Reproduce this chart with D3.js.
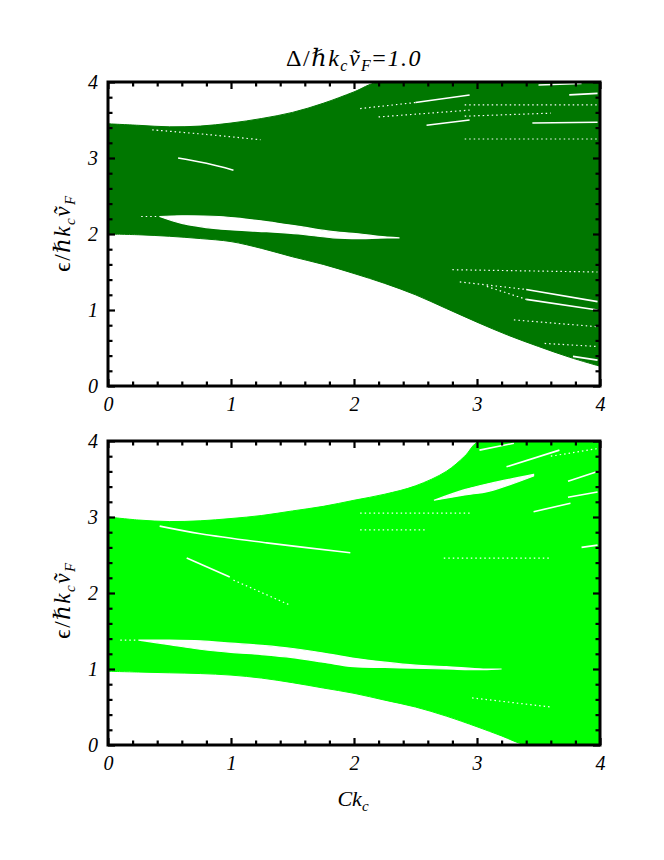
<!DOCTYPE html>
<html><head><meta charset="utf-8">
<script src="https://cdn.jsdelivr.net/npm/d3@7"></script>
<style>
body{margin:0;background:#fff}
svg text{font-family:"Liberation Serif","Times New Roman","DejaVu Serif",serif;fill:#000}
</style>
</head><body>
<svg id="c" width="664" height="860"></svg>
<script>
// ---------- data ----------
const titleValue = "1.0";
const xTicks = [0, 1, 2, 3, 4];
const yTicks = [0, 1, 2, 3, 4];
const minorTicks = [0.2, 0.4, 0.6, 0.8, 1.2, 1.4, 1.6, 1.8, 2.2, 2.4, 2.6, 2.8, 3.2, 3.4, 3.6, 3.8];

// top panel (dark green): band envelope
const topUpper = [[0,3.45],[0.25,3.43],[0.5,3.41],[0.75,3.42],[1,3.46],[1.25,3.52],[1.5,3.6],[1.75,3.72],[2,3.87],[2.2,4.0],[3,4.0],[4,4.0]];
const topLower = [[0,2.0],[0.25,1.99],[0.5,1.97],[0.75,1.94],[1,1.9],[1.25,1.81],[1.5,1.7],[1.75,1.6],[2,1.48],[2.25,1.35],[2.5,1.2],[2.75,1.02],[3,0.84],[3.25,0.67],[3.5,0.52],[3.75,0.38],[4,0.26]];
// top panel gap (white lens): upper and lower edge
const topGapTop = [[0.42,2.23],[0.6,2.24],[0.9,2.23],[1.1,2.2],[1.3,2.16],[1.55,2.1],[1.83,2.03],[2.05,2.0],[2.2,1.97],[2.37,1.95]];
const topGapBottom = [[0.42,2.23],[0.6,2.14],[0.88,2.07],[1.29,2.03],[1.55,2.0],[1.83,1.95],[2.05,1.94],[2.2,1.945],[2.37,1.95]];
// top panel thin white streaks
const topStreaks = [
  [[0.57,3.0],[0.8,2.93],[1.02,2.84]],
  [[2.5,3.73],[2.94,3.83]],
  [[2.59,3.43],[2.94,3.5]],
  [[3.45,3.46],[3.98,3.47]],
  [[3.75,3.83],[3.98,3.85]],
  [[3.5,3.96],[3.85,3.98]],
  [[3.4,1.27],[3.98,1.11]],
  [[3.4,1.14],[3.98,1.0]],
  [[3.78,0.39],[3.98,0.34]]
];
// top panel dotted streaks
const topDots = [
  [[0.27,2.23],[0.42,2.23]],
  [[0.36,3.37],[0.8,3.31],[1.24,3.24]],
  [[2.05,3.65],[2.5,3.73]],
  [[2.2,3.54],[2.94,3.63]],
  [[2.9,3.55],[3.6,3.59]],
  [[2.9,3.7],[3.98,3.7]],
  [[2.9,3.25],[3.98,3.25]],
  [[2.86,1.37],[3.4,1.27]],
  [[3.08,1.31],[3.4,1.14]],
  [[2.8,1.53],[3.98,1.5]],
  [[3.3,0.87],[3.98,0.78]],
  [[3.55,0.56],[3.98,0.52]]
];

// bottom panel (bright green): band envelope
const botUpper = [[0,3.0],[0.25,2.96],[0.5,2.94],[0.75,2.95],[1,2.98],[1.25,3.02],[1.5,3.08],[1.75,3.14],[2,3.22],[2.25,3.3],[2.5,3.41],[2.75,3.6],[2.9,3.8],[3.02,4.0],[3.5,4.0],[4,4.0]];
const botLower = [[0,0.97],[0.25,0.96],[0.5,0.95],[0.75,0.94],[1,0.92],[1.25,0.88],[1.5,0.82],[1.75,0.75],[2,0.68],[2.25,0.59],[2.5,0.5],[2.75,0.38],[3,0.24],[3.2,0.12],[3.4,0.0],[3.7,0.0],[4,0.0]];
// bottom panel main gap (white lens)
const botGapTop = [[0.25,1.38],[0.5,1.38],[0.75,1.37],[1,1.34],[1.25,1.31],[1.5,1.27],[1.75,1.21],[2,1.14],[2.25,1.09],[2.5,1.05],[2.75,1.03],[3.05,1.0],[3.2,1.0]];
const botGapBottom = [[0.25,1.38],[0.5,1.32],[0.75,1.26],[1,1.22],[1.25,1.19],[1.5,1.15],[1.75,1.09],[2,1.03],[2.25,1.02],[2.5,1.01],[2.75,1.0],[3.05,0.99],[3.2,1.0]];
// bottom panel second lens (upper right)
const botLens2Top = [[2.65,3.22],[2.9,3.36],[3.1,3.44],[3.46,3.56]];
const botLens2Bottom = [[2.65,3.22],[2.9,3.29],[3.1,3.34],[3.46,3.54]];
// bottom panel thin white streaks
const botStreaks = [
  [[0.42,2.88],[0.75,2.78],[1.29,2.66],[1.97,2.53]],
  [[0.64,2.46],[0.99,2.21]],
  [[3.46,3.07],[3.76,3.18]],
  [[3.74,3.26],[3.98,3.33]],
  [[3.85,2.6],[3.98,2.63]],
  [[3.02,3.88],[3.3,3.97]],
  [[3.24,3.66],[3.67,3.88]],
  [[3.74,3.47],[3.98,3.6]]
];
// bottom panel dotted streaks
const botDots = [
  [[0.1,1.38],[0.25,1.38]],
  [[1.02,2.17],[1.48,1.84]],
  [[2.05,2.83],[2.59,2.83]],
  [[2.05,3.05],[2.94,3.05]],
  [[2.73,2.46],[3.6,2.46]],
  [[2.96,0.62],[3.6,0.5]],
  [[3.6,3.8],[3.98,3.9]]
];

// ---------- layout ----------
const L = 108, R = 600, PH = 304;
const panelTops = [82, 441];
const colors = ["#007700", "#00ff00"];
const serif = '"Liberation Serif","Times New Roman","DejaVu Serif",serif';

const svg = d3.select("#c");
const x = d3.scaleLinear().domain([0, 4]).range([L, R]);

const panels = [
  {upper: topUpper, lower: topLower, lenses: [[topGapTop, topGapBottom]], streaks: topStreaks, dots: topDots},
  {upper: botUpper, lower: botLower, lenses: [[botGapTop, botGapBottom], [botLens2Top, botLens2Bottom]], streaks: botStreaks, dots: botDots}
];

panels.forEach((p, i) => {
  const top = panelTops[i];
  const y = d3.scaleLinear().domain([0, 4]).range([top + PH, top]);
  const line = d3.line().x(d => x(d[0])).y(d => y(d[1])).curve(d3.curveCatmullRom);
  const poly = (a, b) => line(a) + "L" + line(b.slice().reverse()).slice(1) + "Z";
  const clipId = "clip" + i;
  svg.append("clipPath").attr("id", clipId)
    .append("rect").attr("x", L).attr("y", top).attr("width", R - L).attr("height", PH);
  const g = svg.append("g").attr("clip-path", `url(#${clipId})`);

  // band
  g.append("path").attr("d", poly(p.upper, p.lower))
    .attr("fill", colors[i]).attr("stroke", colors[i]).attr("stroke-width", 1);

  // gaps
  p.lenses.forEach(([a, b]) => {
    g.append("path").attr("d", poly(a, b))
      .attr("fill", "#fff").attr("stroke", "#fff").attr("stroke-width", 1.2);
  });
  p.streaks.forEach(s => {
    g.append("path").attr("d", line(s)).attr("fill", "none")
      .attr("stroke", "#fff").attr("stroke-width", 1.6);
  });
  p.dots.forEach(s => {
    g.append("path").attr("d", line(s)).attr("fill", "none")
      .attr("stroke", "#fff").attr("stroke-width", 1.2).attr("stroke-dasharray", "1.5,3");
  });

  // ticks (all four sides, inward)
  const addAxis = (axis, tr) => {
    const ag = svg.append("g").attr("transform", tr).call(axis);
    ag.select(".domain").remove();
    ag.selectAll(".tick line").attr("stroke", "#000").attr("stroke-width", 2.2);
    ag.selectAll("text").style("font-size", "20px").style("font-style", "italic")
      .style("font-family", serif);
    return ag;
  };
  addAxis(d3.axisBottom(x).tickValues(xTicks).tickSize(-7).tickPadding(11).tickFormat(d3.format("d")), `translate(0,${top + PH})`);
  addAxis(d3.axisBottom(x).tickValues(minorTicks).tickSize(-4.5).tickFormat(""), `translate(0,${top + PH})`);
  addAxis(d3.axisTop(x).tickValues(xTicks).tickSize(-7).tickFormat(""), `translate(0,${top})`);
  addAxis(d3.axisTop(x).tickValues(minorTicks).tickSize(-4.5).tickFormat(""), `translate(0,${top})`);
  addAxis(d3.axisLeft(y).tickValues(yTicks).tickSize(-7).tickPadding(10).tickFormat(d3.format("d")), `translate(${L},0)`);
  addAxis(d3.axisLeft(y).tickValues(minorTicks).tickSize(-4.5).tickFormat(""), `translate(${L},0)`);
  addAxis(d3.axisRight(y).tickValues(yTicks).tickSize(-7).tickFormat(""), `translate(${R},0)`);
  addAxis(d3.axisRight(y).tickValues(minorTicks).tickSize(-4.5).tickFormat(""), `translate(${R},0)`);

  // frame
  svg.append("rect").attr("x", L).attr("y", top).attr("width", R - L).attr("height", PH)
    .attr("fill", "none").attr("stroke", "#000").attr("stroke-width", 3);

  // y label
  const cy = i === 0 ? 233 : 600;
  const yl = svg.append("text").attr("transform", `translate(70,${cy}) rotate(-90)`)
    .attr("text-anchor", "middle").style("font-size", "23px").style("letter-spacing", "1.5px")
    .style("font-family", serif);
  yl.append("tspan").text("ϵ/ℏ");
  yl.append("tspan").style("font-style", "italic").text("k");
  yl.append("tspan").style("font-style", "italic").style("font-size", "15px").attr("dy", 5).text("c");
  yl.append("tspan").style("font-style", "italic").attr("dy", -5).text("ṽ");
  yl.append("tspan").style("font-style", "italic").style("font-size", "15px").attr("dy", 5).text("F");
});

// title
const t = svg.append("text").attr("x", 354).attr("y", 66).attr("text-anchor", "middle")
  .style("font-size", "24px").style("letter-spacing", "1.5px").style("font-family", serif);
t.append("tspan").text("Δ/ℏ");
t.append("tspan").style("font-style", "italic").text("k");
t.append("tspan").style("font-style", "italic").style("font-size", "16px").attr("dy", 5).text("c");
t.append("tspan").style("font-style", "italic").attr("dy", -5).text("ṽ");
t.append("tspan").style("font-style", "italic").style("font-size", "16px").attr("dy", 5).text("F");
t.append("tspan").attr("dy", -5).text("=");
t.append("tspan").style("font-style", "italic").text(titleValue);

// x title
const xt = svg.append("text").attr("x", 353).attr("y", 806).attr("text-anchor", "middle")
  .style("font-size", "22px").style("font-family", serif);
xt.append("tspan").style("font-style", "italic").text("Ck");
xt.append("tspan").style("font-style", "italic").style("font-size", "15px").attr("dy", 5).text("c");
</script>
</body></html>
